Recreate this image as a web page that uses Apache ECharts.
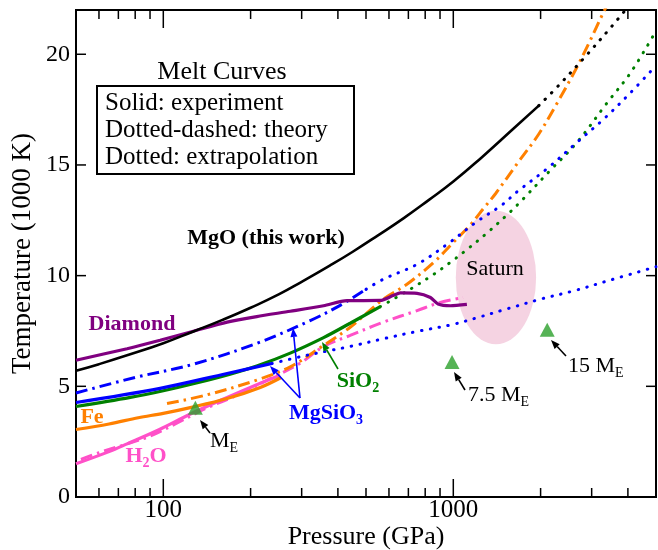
<!DOCTYPE html>
<html><head><meta charset="utf-8">
<script src="https://cdn.jsdelivr.net/npm/echarts@6/dist/echarts.min.js"></script>
<style>html,body{margin:0;padding:0;background:#fff}#c{width:658px;height:550px}</style>
</head><body><div id="c"></div>
<script>
const FONT = '"Liberation Serif", "Times New Roman", serif';

// ---- data (pressure GPa, temperature 1000 K) ----
const mgoSolid = [[50,5.7],[60,6.0],[75,6.4],[100,6.95],[127,7.48],[160,8.0],[200,8.55],[250,9.15],[300,9.72],[375,10.45],[450,11.08],[550,11.82],[675,12.6],[820,13.4],[1000,14.25],[1250,15.33],[1600,16.6],[1972,17.68]];
const mgoDotted = [[1972,17.68],[2312,18.6],[2858,19.91],[3534,21.29],[4100,22.3]];
const diamondSolid = [[50,6.18],[75,6.7],[97.5,7.08],[127,7.49],[166,7.9],[210,8.15],[274,8.39],[357,8.64],[430,8.87],[560,8.88],[620,9.1],[657,9.22],[750,9.2],[834,9.01],[886,8.72],[977,8.64],[1114,8.7]];
const sio2Solid = [[50,4.09],[77,4.5],[100,4.8],[130,5.15],[170,5.55],[210,5.92],[274,6.5],[357,7.2],[441,7.85],[560,8.6]];
const sio2Dotted = [[560,8.6],[711,9.39],[856,10.06],[977,10.6],[1100,11.12],[1308,11.93],[1554,12.82],[1728,13.42],[2164,14.77],[2675,16.03],[3397,17.82],[4088,19.17],[5000,21.05]];
const mgsio3Solid = [[50,4.27],[97.5,4.91],[166,5.58],[237,6.03]];
const mgsio3Dotted = [[237,6.03],[300,6.35],[376,6.62],[441,6.8],[574,7.15],[750,7.48],[1000,7.8],[1209,8.1],[1534,8.5],[2000,8.94],[2597,9.31],[3397,9.76],[5000,10.4]];
const mgsio3Theory = [[50,4.7],[80,5.4],[127,6.0],[216,7.0],[321,7.97],[400,8.6],[500,9.38]];
const mgsio3TheoryDotted = [[500,9.38],[574,9.84],[750,10.51],[960,11.45],[1209,12.45],[1474,13.2],[1661,13.79],[2108,14.84],[2675,16.03],[3305,17.08],[4088,18.27],[5000,19.49]];
const feSolid = [[50,3.05],[65,3.3],[82,3.58],[100,3.78],[125,4.05],[166,4.45],[216,4.95],[255,5.4]];
const feTheory = [[103,4.22],[140,4.6],[210,5.28],[274,5.88],[357,6.85],[441,7.67],[574,8.94],[692,9.61],[856,10.6],[1000,11.5],[1146,12.3],[1274,13.05],[1398,13.7],[1661,15.06],[1972,16.4],[2282,17.8],[2640,19.3],[2934,20.5],[3305,21.93],[3450,22.4]];
const h2oSolid = [[50,1.5],[65,2.05],[75,2.4],[97,3.05],[124,3.75],[163,4.45],[216,5.14],[253,5.5]];
const h2oTheory = [[52,1.7],[60,2.0],[75,2.4],[90,2.75],[110,3.3],[140,4.0],[180,4.6],[230,5.3],[297,6.05],[357,6.8],[441,7.3],[574,7.9],[750,8.42],[902,8.79],[1080,9.01]];
const planets = [[129,4.03],[990,6.1],[2108,7.55]];
const saturnBox = [[1020,6.9,1930,12.93]]; // pMin, tMin, pMax, tMax

const xLabelVals = [100, 1000];
const xMinorTicks = [60,70,80,90,200,300,400,500,600,700,800,900,2000,3000,4000];
const xMajorTicks = [100,1000];
const yTickVals = [0,5,10,15,20];
const xMin = 50, xMax = 5000, yMin = 0, yMax = 22;

const C = {black:'#000000', purple:'#800080', green:'#008000', blue:'#0000ff', orange:'#ff8000', pink:'#ff50c8', tri:'#2ca02c'};
const DOT = [0.5, 8.5], DASHDOT = [12, 5, 2.5, 5];

function line(data, color, kind, width, smooth) {
  return {type:'line', data, symbol:'none', smooth: smooth == null ? 0.35 : smooth, silent:true, z:3,
    lineStyle:{color, width: width || 3, type: kind === 'solid' ? 'solid' : (kind === 'dot' ? DOT : DASHDOT), cap: kind === 'dot' ? 'round' : 'butt'}};
}
function xTicks(vals, len) {
  return {type:'custom', silent:true, z:6, data: vals.map(v => [v, yMin]),
    renderItem: (params, api) => {
      const cs = params.coordSys;
      const x = api.coord([api.value(0), api.value(1)])[0];
      const yb = cs.y + cs.height, yt = cs.y;
      return {type:'group', children:[
        {type:'line', shape:{x1:x, y1:yb, x2:x, y2:yb - len}, style:{stroke:'#000', lineWidth:1.5}},
        {type:'line', shape:{x1:x, y1:yt, x2:x, y2:yt + len}, style:{stroke:'#000', lineWidth:1.5}}]};
    }};
}
function yTicks(vals, len) {
  return {type:'custom', silent:true, z:6, data: vals.map(v => [xMin, v]),
    renderItem: (params, api) => {
      const cs = params.coordSys;
      const y = api.coord([api.value(0), api.value(1)])[1];
      const xl = cs.x, xr = cs.x + cs.width;
      return {type:'group', children:[
        {type:'line', shape:{x1:xl, y1:y, x2:xl + len, y2:y}, style:{stroke:'#000', lineWidth:1.5}},
        {type:'line', shape:{x1:xr, y1:y, x2:xr - len, y2:y}, style:{stroke:'#000', lineWidth:1.5}}]};
    }};
}
function arrow(x1, y1, x2, y2, color) {
  const a = Math.atan2(y2 - y1, x2 - x1), L = 9, W = 3.5;
  const bx = x2 - L * Math.cos(a), by = y2 - L * Math.sin(a);
  const nx = -Math.sin(a), ny = Math.cos(a);
  return [
    {type:'line', z:20, shape:{x1, y1, x2:bx, y2:by}, style:{stroke:color, lineWidth:1.6}},
    {type:'polygon', z:20, shape:{points:[[x2, y2], [bx + nx * W, by + ny * W], [bx - nx * W, by - ny * W]]}, style:{fill:color}}];
}
function txt(x, y, text, opt) {
  opt = opt || {};
  const size = opt.size || 22;
  return {type:'text', z:20, x, y, style:{
    text, fill: opt.color || '#000', font: (opt.bold ? 'bold ' : '') + size + 'px ' + FONT,
    align: opt.align || 'left', verticalAlign:'middle',
    rich: {n:{fontSize:size, fontWeight: opt.bold ? 'bold' : 'normal', fontFamily:FONT, fill: opt.color || '#000'},
           s:{fontSize:14, fontWeight: opt.bold ? 'bold' : 'normal', fontFamily:FONT, fill: opt.color || '#000', padding:[14,0,0,0]}}}};
}

const chart = echarts.init(document.getElementById('c'), null, {renderer:'canvas'});
const graphics = [
  {type:'rect', z:19, shape:{x:97, y:86, width:257, height:88}, style:{fill:'#fff', stroke:'#000', lineWidth:2}},
  txt(222, 72, 'Melt Curves', {align:'center', size:26}),
  txt(105, 103, 'Solid: experiment', {size:25}),
  txt(105, 130, 'Dotted-dashed: theory', {size:25}),
  txt(105, 157, 'Dotted: extrapolation', {size:25}),
  txt(266, 238, 'MgO (this work)', {bold:true, align:'center'}),
  txt(132, 324, 'Diamond', {bold:true, align:'center', color:C.purple}),
  txt(92, 417, 'Fe', {bold:true, align:'center', color:C.orange}),
  txt(146, 456, '{n|H}{s|2}{n|O}', {bold:true, align:'center', color:C.pink}),
  txt(358, 381, '{n|SiO}{s|2}', {bold:true, align:'center', color:C.green}),
  txt(326, 413, '{n|MgSiO}{s|3}', {bold:true, align:'center', color:C.blue}),
  txt(210, 441, '{n|M}{s|E}', {}),
  txt(468, 395, '{n|7.5 M}{s|E}', {}),
  txt(568, 366, '{n|15 M}{s|E}', {}),
  txt(495, 269, 'Saturn', {align:'center'}),
  ...arrow(210, 433, 200, 420, '#000'),
  ...arrow(465, 390, 454, 372, '#000'),
  ...arrow(566, 356, 551, 340, '#000'),
  ...arrow(300, 398, 293, 328, C.blue),
  ...arrow(300, 398, 270, 366, C.blue),
  ...arrow(338, 369, 322, 342, C.green)
];

chart.setOption({
  animation:false,
  backgroundColor:'#fff',
  grid:{left:76, right:2, top:10, bottom:53, show:true, borderColor:'#000', borderWidth:2, backgroundColor:'transparent', containLabel:false, outerBoundsMode:'none'},
  xAxis:{type:'log', logBase:10, min:xMin, max:xMax,
    name:'Pressure (GPa)', nameLocation:'middle', nameGap:27, nameMoveOverlap:false,
    nameTextStyle:{fontFamily:FONT, fontSize:26, color:'#000'},
    axisLine:{show:false}, axisTick:{show:false}, splitLine:{show:false},
    axisLabel:{margin:1, fontFamily:FONT, fontSize:25, color:'#000',
      formatter: v => { const r = Math.round(v); return xLabelVals.includes(r) ? String(r) : ''; }}},
  yAxis:{type:'value', min:yMin, max:yMax, interval:5,
    name:'Temperature (1000 K)', nameLocation:'middle', nameGap:40, nameMoveOverlap:false,
    nameTextStyle:{fontFamily:FONT, fontSize:27, color:'#000'},
    axisLine:{show:false}, axisTick:{show:false}, splitLine:{show:false},
    axisLabel:{margin:6, fontFamily:FONT, fontSize:24, color:'#000',
      formatter: v => yTickVals.includes(v) ? String(v) : ''}},
  graphic: graphics,
  series:[
    {type:'custom', silent:true, z:1, data:saturnBox,
      renderItem:(params, api) => {
        const a = api.coord([api.value(0), api.value(3)]);
        const b = api.coord([api.value(2), api.value(1)]);
        const cx = (a[0] + b[0]) / 2, cy = (a[1] + b[1]) / 2;
        const rx = (b[0] - a[0]) / 2, ry = (b[1] - a[1]) / 2;
        return {type:'circle', x:cx, y:cy, scaleX: rx / ry, shape:{cx:0, cy:0, r:ry}, style:{fill:'#f5d3e2'}};
      }},
    line(h2oSolid, C.pink, 'solid', 3.2),
    line(h2oTheory, C.pink, 'dashdot', 3),
    line(feSolid, C.orange, 'solid', 3.2),
    line(feTheory, C.orange, 'dashdot', 3),
    line(sio2Solid, C.green, 'solid', 3.2),
    line(sio2Dotted, C.green, 'dot', 3),
    line(mgsio3Solid, C.blue, 'solid', 3.2),
    line(mgsio3Dotted, C.blue, 'dot', 3),
    line(mgsio3Theory, C.blue, 'dashdot', 3),
    line(mgsio3TheoryDotted, C.blue, 'dot', 3),
    line(diamondSolid, C.purple, 'solid', 3.2, 0.25),
    line(mgoSolid, C.black, 'solid', 2.6, 0.5),
    line(mgoDotted, C.black, 'dot', 3),
    {type:'scatter', data:planets, symbol:'triangle', symbolSize:[15,14], itemStyle:{color:C.tri}, z:8, silent:true},
    xTicks(xMinorTicks, 9),
    xTicks(xMajorTicks, 18),
    yTicks(yTickVals, 10)
  ]
});
</script></body></html>
